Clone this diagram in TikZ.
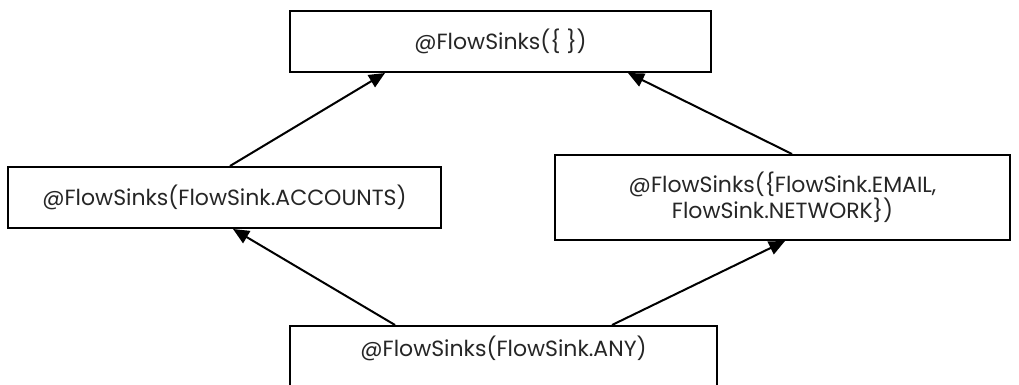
\documentclass[tikz,border=0pt]{standalone}
\usepackage{fontspec}
\setmainfont{Poppins}
\usetikzlibrary{arrows.meta}
\begin{document}
\begin{tikzpicture}[x=1pt,y=1pt,
  box/.style={draw=black, line width=2pt, fill=white, inner sep=0pt, align=center,
    font=\fontsize{22}{26}\selectfont, text=black!85},
  arr/.style={line width=2pt, -{Triangle[length=16pt,width=14pt]}}]
\clip (0,0) rectangle (1019,385);
\fill[white] (0,0) rectangle (1019,385);
\node[box, minimum width=421pt, minimum height=61pt] (top) at (500.5,343.5) {@FlowSinks(\{ \})};
\node[box, minimum width=433pt, minimum height=61pt] (acc) at (224.5,187.5) {@FlowSinks(FlowSink.ACCOUNTS)};
\node[box, minimum width=455pt, minimum height=85pt] (net) at (782.5,187.5) {@FlowSinks(\{FlowSink.EMAIL,\\FlowSink.NETWORK\})};
\node[box, minimum width=427pt, text height=31pt, text depth=38pt, anchor=base] (any) at (503.5,28) {@FlowSinks(FlowSink.ANY)};
\draw[arr] ([xshift=5.5pt]acc.north) -- ([xshift=-115.5pt]top.south);
\draw[arr] ([xshift=9.5pt]net.north) -- ([xshift=127.5pt]top.south);
\draw[arr] ([xshift=-108.5pt]any.north) -- ([xshift=8.5pt]acc.south);
\draw[arr] ([xshift=108.5pt]any.north) -- ([xshift=2.5pt]net.south);
\end{tikzpicture}
\end{document}
